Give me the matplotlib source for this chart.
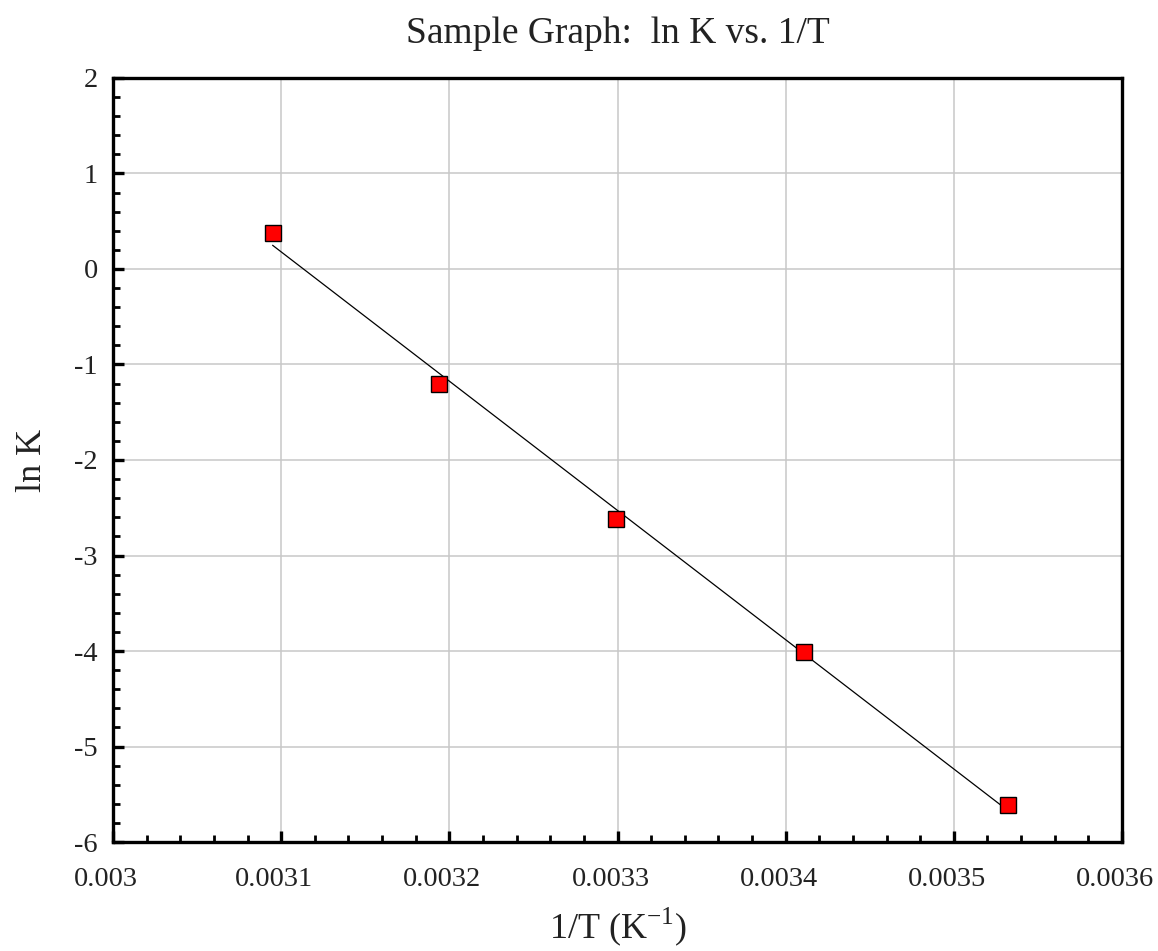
import numpy as np
from matplotlib import pyplot as plt
from matplotlib.ticker import MultipleLocator
from matplotlib.transforms import ScaledTranslation

# data
inv_T = [0.003095, 0.003194, 0.003299, 0.003411, 0.003532]
ln_K = [0.38, -1.20, -2.62, -4.01, -5.61]

x_ticks = [0.003, 0.0031, 0.0032, 0.0033, 0.0034, 0.0035, 0.0036]
x_tick_labels = ['0.003', '0.0031', '0.0032', '0.0033', '0.0034', '0.0035', '0.0036']
y_ticks = [-6, -5, -4, -3, -2, -1, 0, 1, 2]

plt.rcParams['font.family'] = ['Liberation Serif', 'DejaVu Serif']
plt.rcParams['mathtext.fontset'] = 'custom'
plt.rcParams['mathtext.rm'] = 'Liberation Serif'
plt.rcParams['axes.unicode_minus'] = False

fig = plt.figure(figsize=(11.58, 9.51), dpi=100)
ax = fig.add_axes([0.0976, 0.1146, 0.8713, 0.8034])

# least squares line through the points
slope, intercept = np.polyfit(inv_T, ln_K, 1)
fit_x = np.array([min(inv_T), max(inv_T)])
ax.plot(fit_x, slope * fit_x + intercept, color='black', lw=0.9, zorder=3)

ax.plot(inv_T, ln_K, linestyle='none', marker='s', markersize=11,
        markerfacecolor='#ff0000', markeredgecolor='black', markeredgewidth=1.0, zorder=4)

ax.set_xlim(0.003, 0.0036)
ax.set_ylim(-6, 2)
ax.set_xticks(x_ticks)
ax.set_xticklabels(x_tick_labels)
ax.set_yticks(y_ticks)
ax.xaxis.set_minor_locator(MultipleLocator(0.00002))
ax.yaxis.set_minor_locator(MultipleLocator(0.2))

ax.grid(True, which='major', color='#c8c8c8', lw=1.1)
ax.set_axisbelow(True)

for s in ax.spines.values():
    s.set_linewidth(2.4)

ax.tick_params(which='both', direction='in', top=False, right=False,
               labelsize=20.5, labelcolor='#222222')
ax.tick_params(axis='x', pad=18)
ax.tick_params(axis='y', pad=11)
ax.tick_params(which='major', length=8, width=2.4)
ax.tick_params(which='minor', length=5, width=2.0)

# the x labels sit a little left of their ticks in the original
shift = ScaledTranslation(-7 / 100, 0, fig.dpi_scale_trans)
for lbl in ax.get_xticklabels():
    lbl.set_transform(lbl.get_transform() + shift)

ax.set_title('Sample Graph:  ln K vs. 1/T', fontsize=27, pad=25, color='#222222')
ax.set_xlabel('1/T (K$^{-1}$)', fontsize=26, labelpad=10, color='#222222')
ax.set_ylabel('ln K', fontsize=26, labelpad=18, color='#222222')

plt.savefig('out.png', dpi=100)
